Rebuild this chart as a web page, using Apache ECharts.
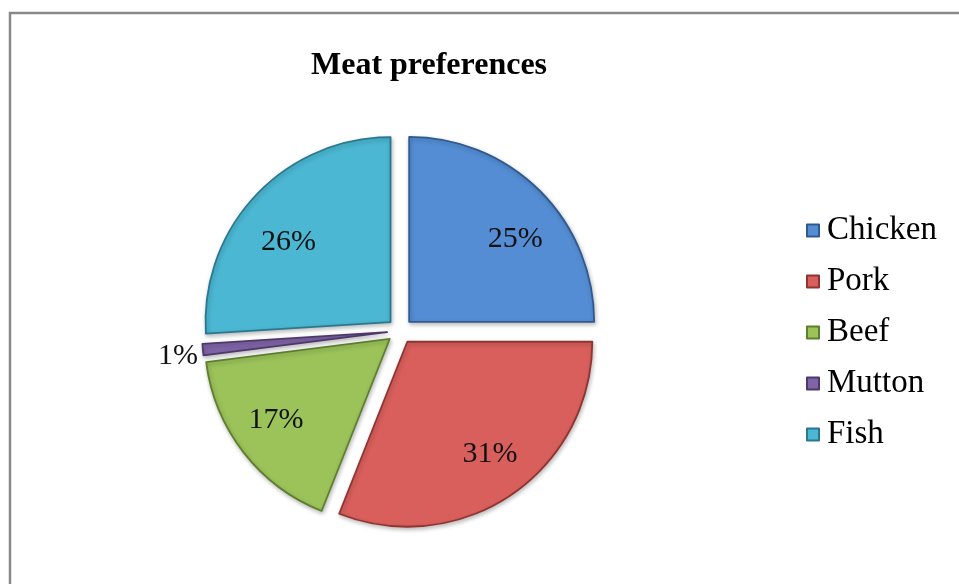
<!DOCTYPE html>
<html>
<head>
<meta charset="utf-8">
<script src="https://cdn.jsdelivr.net/npm/echarts@6/dist/echarts.min.js"></script>
<style>
html,body{margin:0;padding:0;background:#fff;}
#chart{width:959px;height:584px;}
</style>
</head>
<body>
<div id="chart"></div>
<script>
const categories = ['Chicken', 'Pork', 'Beef', 'Mutton', 'Fish'];
const values = [25, 31, 17, 1, 26];
const labelsText = ['25%', '31%', '17%', '1%', '26%'];
const titleText = 'Meat preferences';

// styling (kept separate from data)
const colors = ['#548DD4', '#D95F5C', '#9BC35A', '#7F64A6', '#4BB7D2'];
const borderColors = ['#2F5A8F', '#8E3431', '#5E7F2E', '#4D3A6B', '#2A7890'];
const labelNudge = [[7, 16], [4, -3], [-3, -5], [0, 6], [0, 16]];

const serif = '"Liberation Serif", "Times New Roman", serif';
const center = [400, 331];
const R = 185;
const OFFSET = 13;

function nudgeLabel(text, n) {
  const dx = n[0], dy = n[1];
  const padding = [0, Math.max(0, -2 * dx), 0, Math.max(0, 2 * dx)];
  let formatter = text, lineHeight = 32;
  if (dy > 0) { formatter = '\n' + text; lineHeight = 2 * dy; }
  else if (dy < 0) { formatter = text + '\n'; lineHeight = -2 * dy; }
  return { formatter: formatter, lineHeight: lineHeight, padding: padding };
}

const visData = categories.map((c, i) => ({
  name: c,
  value: values[i],
  selected: true,
  itemStyle: {
    color: colors[i],
    borderColor: borderColors[i],
    borderWidth: 1.8,
    shadowBlur: 4,
    shadowOffsetX: 1,
    shadowOffsetY: 2,
    shadowColor: 'rgba(0,0,0,0.25)'
  }
}));

const labelData = categories.map((c, i) => {
  const d = {
    name: c,
    value: values[i],
    selected: true,
    label: nudgeLabel(labelsText[i], labelNudge[i])
  };
  if (values[i] < 3) {
    d.label.position = 'outside';
  }
  return d;
});

const chart = echarts.init(document.getElementById('chart'));
chart.setOption({
  backgroundColor: '#fff',
  animation: false,
  title: {
    text: titleText,
    left: 306,
    top: 45,
    textStyle: { fontFamily: serif, fontSize: 32, fontWeight: 'bold', color: '#000' }
  },
  legend: {
    orient: 'vertical',
    left: 801,
    top: 209,
    itemWidth: 12,
    itemHeight: 12,
    itemGap: 18,
    icon: 'rect',
    data: categories,
    selectedMode: false,
    textStyle: { fontFamily: serif, fontSize: 33, color: '#000', lineHeight: 33, padding: [0, 0, 0, 3] }
  },
  graphic: [{
    type: 'rect',
    shape: { x: 10, y: 13, width: 1200, height: 1000 },
    style: { fill: 'none', stroke: '#888', lineWidth: 2.5 },
    silent: true,
    z: -1
  }],
  series: [
    {
      type: 'pie',
      name: 'vis',
      center: center,
      radius: [0, R],
      startAngle: 90,
      clockwise: true,
      selectedMode: 'multiple',
      selectedOffset: OFFSET,
      avoidLabelOverlap: false,
      label: { show: false },
      labelLine: { show: false },
      emphasis: { disabled: true },
      data: visData,
      z: 2
    },
    {
      type: 'pie',
      name: 'labels',
      center: center,
      radius: [89, R],
      startAngle: 90,
      clockwise: true,
      selectedMode: 'multiple',
      selectedOffset: OFFSET,
      avoidLabelOverlap: false,
      silent: true,
      legendHoverLink: false,
      itemStyle: { color: 'rgba(0,0,0,0)', borderWidth: 0 },
      label: {
        show: true,
        position: 'inside',
        fontFamily: serif,
        fontSize: 30,
        color: '#111',
        distanceToLabelLine: 5
      },
      labelLine: { show: false, length: 0, length2: 0 },
      emphasis: { disabled: true },
      data: labelData,
      z: 3
    }
  ]
});
</script>
</body>
</html>
